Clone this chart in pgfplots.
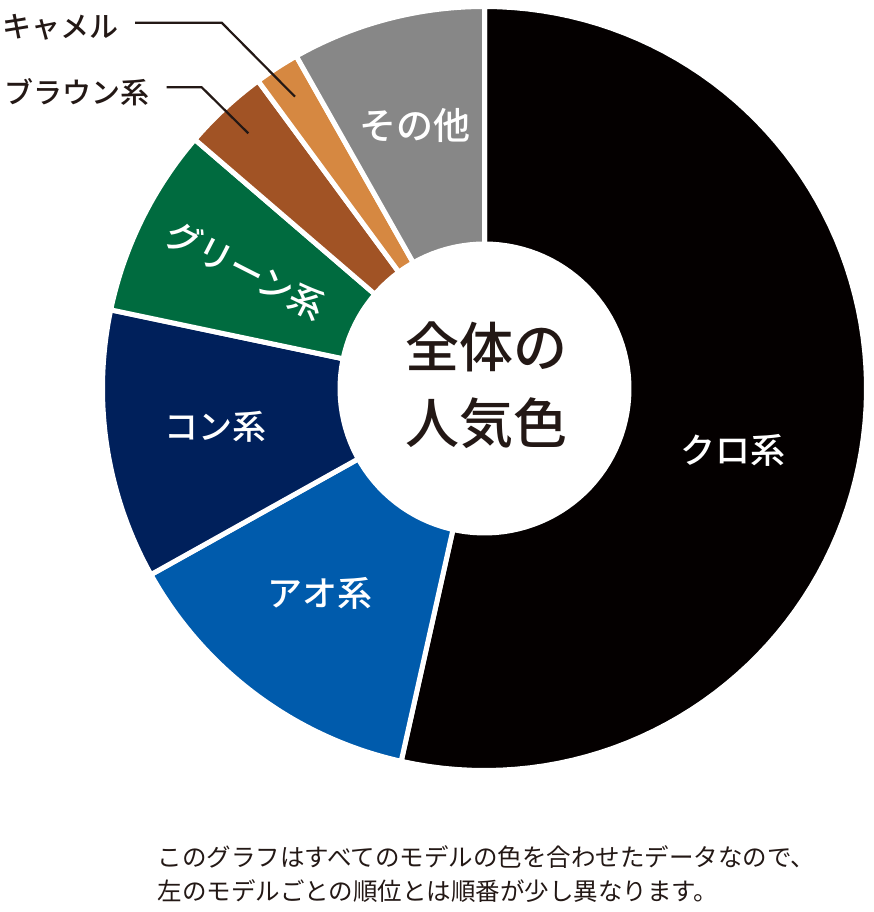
\documentclass[border=0pt]{standalone}
\usepackage{fontspec}
\setmainfont{Noto Sans CJK JP}[BoldFont={Noto Sans CJK JP Medium}]
\usepackage{pgfplots}
\pgfplotsset{compat=1.18}

\definecolor{cKuro}{HTML}{040000}
\definecolor{cAo}{HTML}{005BAC}
\definecolor{cKon}{HTML}{00205B}
\definecolor{cGreen}{HTML}{006B3F}
\definecolor{cBrown}{HTML}{A15325}
\definecolor{cCamel}{HTML}{D68841}
\definecolor{cOther}{HTML}{878787}
\definecolor{textdark}{HTML}{231815}

% shares in percent, clockwise from the top
\def\vKuro{53.5}
\def\vAo{13.4}
\def\vKon{11.4}
\def\vGreen{8.0}
\def\vBrown{3.6}
\def\vCamel{1.9}
\def\vOther{8.2}

\def\cx{484.5}
\def\cy{388.5}
\def\R{382}
\def\Rin{147}

\newcommand\sector[3]{%
  \addplot[fill=#3, draw=white, line width=5pt, domain=#1:#2, samples=90, variable=\t]
    ({\cx+\R*sin(\t)},{\cy-\R*cos(\t)}) -- (axis cs:\cx,\cy) -- cycle;}

\begin{document}
\begin{tikzpicture}
\pgfmathsetmacro\aA{0}
\pgfmathsetmacro\aB{\aA+3.6*\vKuro}
\pgfmathsetmacro\aC{\aB+3.6*\vAo}
\pgfmathsetmacro\aD{\aC+3.6*\vKon}
\pgfmathsetmacro\aE{\aD+3.6*\vGreen}
\pgfmathsetmacro\aF{\aE+3.6*\vBrown}
\pgfmathsetmacro\aG{\aF+3.6*\vCamel}
\pgfmathsetmacro\aH{\aG+3.6*\vOther}
\begin{axis}[
  at={(0,0)}, anchor=south west,
  width=873pt, height=912pt, scale only axis,
  xmin=0, xmax=873, ymin=0, ymax=912, y dir=reverse,
  hide axis, clip=false,
  every node/.append style={inner sep=0pt},
]
\sector{\aA}{\aB}{cKuro}
\sector{\aB}{\aC}{cAo}
\sector{\aC}{\aD}{cKon}
\sector{\aD}{\aE}{cGreen}
\sector{\aE}{\aF}{cBrown}
\sector{\aF}{\aG}{cCamel}
\sector{\aG}{\aH}{cOther}
\addplot[fill=white, draw=none, domain=0:360, samples=120, variable=\t]
  ({\cx+\Rin*sin(\t)},{\cy-\Rin*cos(\t)}) -- cycle;

\node[white, font=\fontsize{35}{40}\selectfont\bfseries] at (axis cs:733,450) {クロ系};
\node[white, font=\fontsize{35}{40}\selectfont\bfseries] at (axis cs:320,593) {アオ系};
\node[white, font=\fontsize{34}{40}\selectfont\bfseries] at (axis cs:215,427) {コン系};
\node[white, font=\fontsize{35}{40}\selectfont\bfseries, rotate=-27] at (axis cs:246,270) {グリーン系};
\node[white, font=\fontsize{37}{40}\selectfont\bfseries] at (axis cs:415,125) {その他};
\node[textdark, align=center, font=\fontsize{54}{76}\selectfont\bfseries] at (axis cs:486,385) {全体の\\人気色};

\node[textdark, anchor=west, font=\fontsize{29}{34}\selectfont\bfseries] at (axis cs:-1,27) {キャメル};
\node[textdark, anchor=west, font=\fontsize{29}{34}\selectfont\bfseries] at (axis cs:1,92) {ブラウン系};
\draw[textdark, line width=2.2pt] (axis cs:135,22.7) -- (axis cs:221.7,22.7) -- (axis cs:295,96.7);
\draw[textdark, line width=2.2pt] (axis cs:166.7,87.3) -- (axis cs:201.7,87.3) -- (axis cs:248.3,133.3);

\node[textdark, anchor=west, align=left, font=\fontsize{24.5}{34}\selectfont] at (axis cs:154,874)
  {このグラフはすべてのモデルの色を合わせたデータなので、\\左のモデルごとの順位とは順番が少し異なります。};
\end{axis}
\pgfresetboundingbox
\useasboundingbox (0,0) rectangle (873pt,912pt);
\end{tikzpicture}
\end{document}
